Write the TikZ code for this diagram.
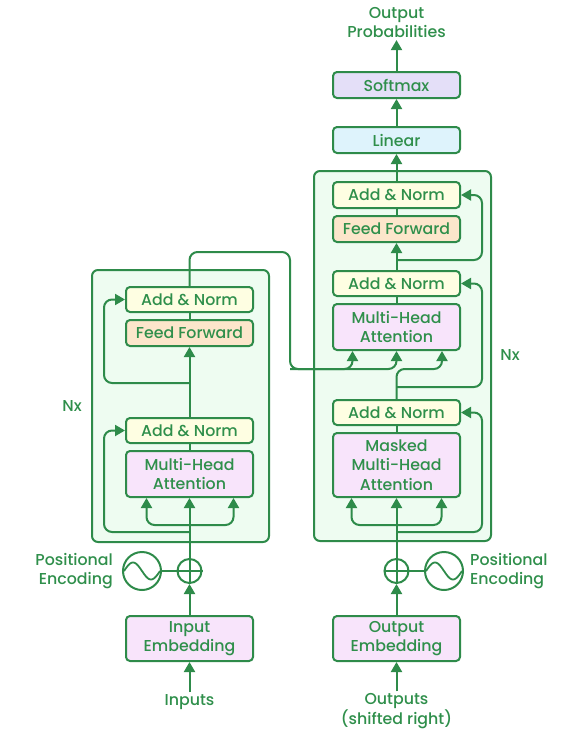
\documentclass[tikz,border=0pt]{standalone}
\usepackage{fontspec}
\setmainfont{Poppins Medium}
\usetikzlibrary{arrows.meta,calc}
\definecolor{gr}{HTML}{2E8B4A}
\definecolor{txt}{HTML}{2F8F4B}
\definecolor{contfill}{HTML}{EEFCF1}
\definecolor{normfill}{HTML}{FEFEE2}
\definecolor{fffill}{HTML}{FCE6CB}
\definecolor{attfill}{HTML}{F8E4FB}
\definecolor{linfill}{HTML}{DEF3FC}
\definecolor{softfill}{HTML}{E4DFF8}
\begin{document}
\begin{tikzpicture}[x=1pt,y=-1pt,
  font=\fontsize{15.8}{19.5}\selectfont, text=txt,
  box/.style={draw=gr, line width=2pt, rounded corners=4pt, minimum width=127pt,
    align=center, inner sep=0pt},
  frame/.style={draw=gr, line width=2pt, rounded corners=6pt, fill=contfill,
    inner sep=0pt},
  arr/.style={draw=gr, line width=2pt, -{Triangle[length=10pt,width=11pt]}},
  ln/.style={draw=gr, line width=2pt},
  ring/.style={circle, draw=gr, line width=2pt, inner sep=0pt},
  lbl/.style={align=center, inner sep=2pt}]
\useasboundingbox (0,0) rectangle (574,747);

% stack frames
\node[frame, minimum width=177pt, minimum height=272pt] (enc) at (180.5,406) {};
\node[frame, minimum width=177pt, minimum height=370pt] (dec) at (402.5,356) {};

% encoder blocks
\node[box, fill=normfill, minimum height=25pt] (an1t) at (189.5,299.5) {Add \& Norm};
\node[box, fill=fffill, minimum height=26pt] (ff1) at (189.5,333) {Feed Forward};
\node[box, fill=normfill, minimum height=25pt] (an1b) at (189.5,430.5) {Add \& Norm};
\node[box, fill=attfill, minimum height=46pt] (mha1) at (189.5,474) {Multi-Head\\Attention};
\node[box, fill=attfill, minimum height=45pt] (iemb) at (189.5,638.5) {Input\\Embedding};

% decoder blocks
\node[box, fill=normfill, minimum height=26pt] (an2t) at (396.5,195) {Add \& Norm};
\node[box, fill=fffill, minimum height=26pt] (ff2) at (396.5,229) {Feed Forward};
\node[box, fill=normfill, minimum height=25pt] (an2m) at (396.5,283.5) {Add \& Norm};
\node[box, fill=attfill, minimum height=46pt] (mha2) at (396.5,327) {Multi-Head\\Attention};
\node[box, fill=normfill, minimum height=25pt] (an2b) at (396.5,412.5) {Add \& Norm};
\node[box, fill=attfill, minimum height=64pt] (mmha) at (396.5,465) {Masked\\Multi-Head\\Attention};
\node[box, fill=attfill, minimum height=45pt] (oemb) at (396.5,638.5) {Output\\Embedding};
\node[box, fill=linfill, minimum height=26pt] (lin) at (396.5,140) {Linear};
\node[box, fill=softfill, minimum height=26pt] (soft) at (396.5,85) {Softmax};

% labels
\node[lbl] (outprob) at (396.5,22.5) {Output\\Probabilities};
\node[lbl] (inp) at (189.5,702) {Inputs};
\node[lbl] (outp) at (396.5,711) {Outputs\\(shifted right)};
\node[lbl, anchor=east, align=right] (pe1) at (115,571) {Positional\\Encoding};
\node[lbl, anchor=west, align=left] (pe2) at (468,571) {Positional\\Encoding};
\node[lbl] (nx1) at (72,406) {Nx};
\node[lbl] (nx2) at (510,355) {Nx};

% positional encoding: adders and sine generators
\node[ring, minimum size=24pt] (plus1) at (189.5,571) {};
\node[ring, minimum size=38pt] (sine1) at (142,571) {};
\node[ring, minimum size=24pt] (plus2) at (396.5,571) {};
\node[ring, minimum size=38pt] (sine2) at (444,571) {};
\foreach \p in {plus1,plus2}{
  \draw[ln] (\p.north) -- (\p.south) (\p.west) -- (\p.east);
}
\foreach \s in {sine1,sine2}{
  \begin{scope}[shift={(\s.center)}]
    \draw[gr, line width=1.8pt] plot[domain=-18:18, samples=40, smooth] (\x,{8.5*sin(\x*10)});
  \end{scope}
}
\draw[ln] (sine1) -- (plus1);
\draw[ln] (plus2) -- (sine2);

% encoder flow
\draw[arr] (inp) -- (iemb);
\draw[arr] (iemb) -- (plus1);
\draw[arr] (plus1) -- (mha1);
\coordinate (es) at (189.5,525);
\draw[arr, rounded corners=8pt] (es) -| ([xshift=-43pt]mha1.south);
\draw[arr, rounded corners=8pt] (es) -| ([xshift=44pt]mha1.south);
\coordinate (el1) at (189.5,532);
\coordinate (el1c) at (104,430.5);
\draw[arr, rounded corners=8pt] (el1) -| (el1c) -- (an1b.west);
\draw[ln] (mha1) -- (an1b);
\draw[arr] (an1b) -- (ff1);
\coordinate (el2) at (189.5,383);
\coordinate (el2c) at (104,299.5);
\draw[arr, rounded corners=8pt] (el2) -| (el2c) -- (an1t.west);
\draw[ln] (ff1) -- (an1t);

% encoder output into the decoder cross-attention
\coordinate (eo1) at (290,252);
\coordinate (eo2) at (290,369);
\draw[arr, rounded corners=8pt] (an1t.north) |- (eo1) -- (eo2) -| (mha2.south);
\draw[arr, rounded corners=8pt] (eo2) -| ([xshift=-44pt]mha2.south);

% decoder flow
\draw[arr] (outp) -- (oemb);
\draw[arr] (oemb) -- (plus2);
\draw[arr] (plus2) -- (mmha);
\coordinate (ds) at (396.5,525);
\draw[arr, rounded corners=8pt] (ds) -| ([xshift=-45pt]mmha.south);
\draw[arr, rounded corners=8pt] (ds) -| ([xshift=45pt]mmha.south);
\coordinate (dl1) at (396.5,532);
\coordinate (dl1c) at (482,412.5);
\draw[arr, rounded corners=8pt] (dl1) -| (dl1c) -- (an2b.east);
\draw[ln] (mmha) -- (an2b);
\coordinate (dq) at (442,369);
\draw[arr, rounded corners=8pt] (an2b.north) |- (dq) -- (dq |- mha2.south);
\coordinate (dl2) at (396.5,387);
\coordinate (dl2c) at (482,283.5);
\draw[arr, rounded corners=8pt] (dl2) -| (dl2c) -- (an2m.east);
\draw[ln] (mha2) -- (an2m);
\draw[arr] (an2m) -- (ff2);
\coordinate (dl3) at (396.5,260);
\coordinate (dl3c) at (482,195);
\draw[arr, rounded corners=8pt] (dl3) -| (dl3c) -- (an2t.east);
\draw[ln] (ff2) -- (an2t);

% output head
\draw[arr] (an2t) -- (lin);
\draw[arr] (lin) -- (soft);
\draw[arr] (soft) -- (outprob);
\end{tikzpicture}
\end{document}
